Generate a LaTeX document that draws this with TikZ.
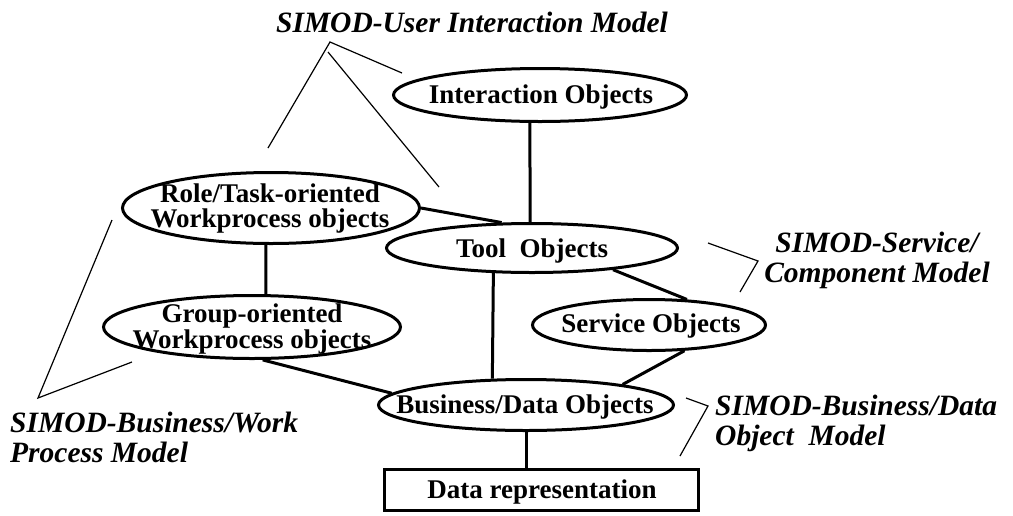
\documentclass[tikz,border=0pt]{standalone}
\usepackage{fontspec}
\setmainfont{Liberation Serif}
\usetikzlibrary{shapes.geometric}
\begin{document}
\begin{tikzpicture}[x=1pt,y=-1pt,
  oval/.style={draw, ellipse, line width=3pt, inner sep=0pt},
  box/.style={draw, rectangle, line width=3pt, inner sep=0pt},
  ntext/.style={font=\fontsize{27}{25.5}\selectfont\bfseries, inner sep=0pt, align=center},
  mlabel/.style={font=\fontsize{29.5}{30}\selectfont\bfseries\itshape, inner sep=0pt},
  link/.style={line width=3pt},
  thinline/.style={line width=1.2pt}]
\useasboundingbox (0,0) rectangle (1013,515);

% shapes
\node[oval, minimum width=293, minimum height=53] (inter) at (540,95) {};
\node[oval, minimum width=297, minimum height=71] (role) at (271,208) {};
\node[oval, minimum width=291, minimum height=49] (tool) at (532,248) {};
\node[oval, minimum width=297, minimum height=63] (group) at (252,327) {};
\node[oval, minimum width=233, minimum height=51] (serv) at (649,325) {};
\node[oval, minimum width=295, minimum height=51] (bus) at (526,405) {};
\node[box, minimum width=314, minimum height=41] (datarep) at (541.5,490) {};

% texts
\node[ntext, anchor=base] (inter-t) at (541,103) {Interaction Objects};
\node[ntext] (role-t) at (270,208.5) {Role/Task-oriented\\Workprocess objects};
\node[ntext, anchor=base] (tool-t) at (532,257) {Tool\ \ Objects};
\node[ntext] (group-t) at (252,329) {Group-oriented\\Workprocess objects};
\node[ntext, anchor=base] (serv-t) at (651,332) {Service Objects};
\node[ntext, anchor=base] (bus-t) at (525,413) {Business/Data Objects};
\node[ntext, anchor=base] (datarep-t) at (542,498) {Data representation};

% connectors
\draw[link] (inter.250) -- (tool.94);
\draw[link] (role.east) -- (tool.140);
\draw[link] (role.262) -- (group.67);
\draw[link] (tool.213) -- (bus.142);
\draw[link] (tool.345) -- (serv.34);
\draw[link] (group.288) -- (bus.175);
\draw[link] (serv.324) -- (bus.12);
\draw[link] (bus.south) -- (bus.south |- datarep.north);

% model labels
\node[mlabel] (m-ui) at (472,22.5) {SIMOD-User Interaction Model};
\node[mlabel, align=center] (m-sc) at (877,260) {SIMOD-Service/\\Component Model};
\node[mlabel, align=left, anchor=west] (m-bw) at (10,437) {SIMOD-Business/Work\\Process Model};
\node[mlabel, align=left, anchor=west] (m-bd) at (715,423) {SIMOD-Business/Data\\Object\ \ Model};

% annotation brackets
\coordinate (ui-a) at (402,73);
\coordinate (ui-v) at (330,42);
\coordinate (ui-b) at (268,148);
\coordinate (ui-c) at (328,52);
\coordinate (ui-d) at (439,187);
\draw[thinline] (ui-a) -- (ui-v) -- (ui-b);
\draw[thinline] (ui-c) -- (ui-d);

\coordinate (sc-a) at (708,243);
\coordinate (sc-v) at (758,261);
\coordinate (sc-b) at (740,292);
\draw[thinline] (sc-a) -- (sc-v) -- (sc-b);

\coordinate (bd-a) at (686,398);
\coordinate (bd-v) at (708,406);
\coordinate (bd-b) at (680,456);
\draw[thinline] (bd-a) -- (bd-v) -- (bd-b);

\coordinate (bw-a) at (112,220);
\coordinate (bw-v) at (38,398);
\coordinate (bw-b) at (132,362);
\draw[thinline] (bw-a) -- (bw-v) -- (bw-b);
\end{tikzpicture}
\end{document}
